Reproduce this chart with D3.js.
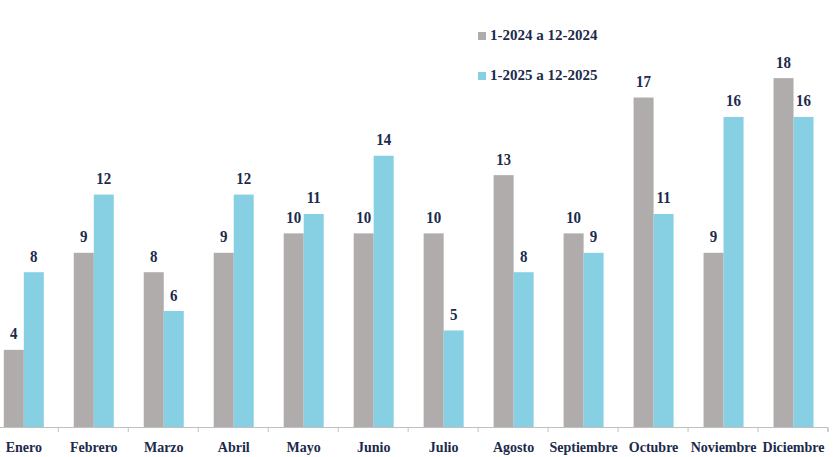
<!DOCTYPE html>
<html>
<head>
<meta charset="utf-8">
<script src="https://cdn.jsdelivr.net/npm/d3@7"></script>
<style>
html,body{margin:0;padding:0;background:#fff;}
svg{display:block;}
text{font-family:"Liberation Serif","Times New Roman",serif;font-weight:bold;fill:#1c2a4b;}
</style>
</head>
<body>
<svg id="chart" width="835" height="457"></svg>
<script>
const categories = ["Enero","Febrero","Marzo","Abril","Mayo","Junio","Julio","Agosto","Septiembre","Octubre","Noviembre","Diciembre"];
const seriesNames = ["1-2024 a 12-2024","1-2025 a 12-2025"];
const values2024 = [4,9,8,9,10,10,10,13,10,17,9,18];
const values2025 = [8,12,6,12,11,14,5,8,9,11,16,16];
const colors = ["#b0acab","#87cfe2"];

const svg = d3.select("#chart");
const x0 = d3.scaleBand().domain(categories).range([-11.7, 828]).padding(0);
const x1 = d3.scaleBand().domain([0,1]).range([15.5, 55.5]).padding(0);
const y = d3.scaleLinear().domain([0, 18]).range([427.5, 78.1]);

const data = categories.map((c,i)=>({cat:c, vals:[values2024[i], values2025[i]]}));

const g = svg.append("g");
const groups = g.selectAll("g.cat").data(data).join("g")
  .attr("transform", d=>`translate(${x0(d.cat)},0)`);

groups.selectAll("rect").data(d=>d.vals.map((v,k)=>({v,k}))).join("rect")
  .attr("x", d=>x1(d.k))
  .attr("width", x1.bandwidth())
  .attr("y", d=>y(d.v))
  .attr("height", d=>y(0)-y(d.v))
  .attr("fill", d=>colors[d.k]);

groups.selectAll("text.val").data(d=>d.vals.map((v,k)=>({v,k}))).join("text")
  .attr("class","val")
  .attr("transform", d=>`translate(${x1(d.k)+x1.bandwidth()/2},${y(d.v)-10.5}) scale(0.88,1)`)
  .attr("text-anchor","middle")
  .style("font-size","17px")
  .text(d=>d.v);

// axis
const axis = d3.axisBottom(x0).tickSize(4.5).tickSizeOuter(4.5).tickFormat("");
const ax = svg.append("g").attr("transform","translate(0,427.5)").call(axis);
ax.select(".domain").attr("stroke","#c0c0c0").attr("d","M-11.7,4.5V0H828V4.5");
ax.selectAll(".tick line").attr("stroke","#c0c0c0")
  .attr("transform", function(){ return `translate(${-x0.bandwidth()/2},0)`; });
ax.append("line").attr("x1",828).attr("x2",828).attr("y1",0).attr("y2",4.5).attr("stroke","#c0c0c0");

svg.append("g").selectAll("text.cat").data(categories).join("text")
  .attr("class","cat")
  .attr("x", d=>x0(d)+35.5)
  .attr("y", 451.7)
  .attr("text-anchor","middle")
  .style("font-size","14px")
  .text(d=>d);

// legend
const legend = svg.append("g");
const legendY = [40, 80];
seriesNames.forEach((s,k)=>{
  legend.append("rect").attr("x",478).attr("y",legendY[k]-8).attr("width",8).attr("height",8).attr("fill",colors[k]);
  legend.append("text").attr("x",490).attr("y",legendY[k]).style("font-size","15px").text(s);
});
</script>
</body>
</html>
